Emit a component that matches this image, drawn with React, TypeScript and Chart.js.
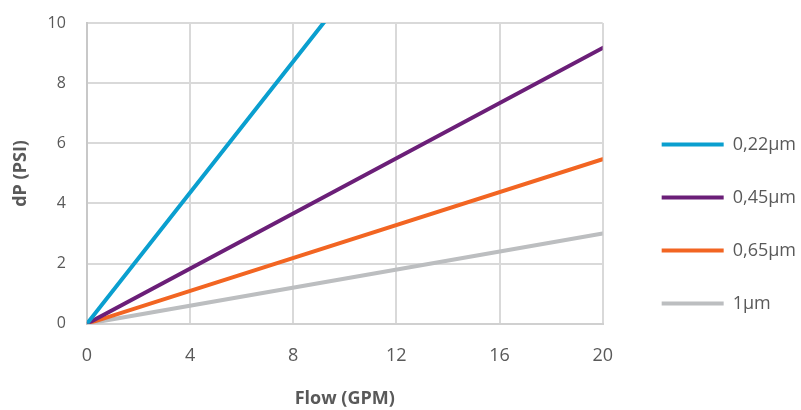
import React, { useEffect, useRef } from "react";
import { Chart, registerables } from "chart.js";

Chart.register(...registerables);

const seriesNames = ["0,22µm", "0,45µm", "0,65µm", "1µm"];
const seriesColors = ["#0a9fcf", "#6b1f78", "#f26522", "#bcbec0"];
const flowPoints = [0, 20];
const dp022 = [0, 21.8];
const dp045 = [0, 9.17];
const dp065 = [0, 5.47];
const dp1 = [0, 3.0];
const seriesValues = [dp022, dp045, dp065, dp1];

const legendShift = {
  id: "legendShift",
  afterLayout(chart: any) {
    const lg = chart.legend;
    if (!lg) return;
    lg.left += 24;
    lg.right += 24;
    lg.top += 7.5;
    lg.bottom += 7.5;
  },
};

export default function App() {
  const ref = useRef<HTMLCanvasElement>(null);
  useEffect(() => {
    document.body.style.margin = "0";
    const ctx = ref.current!;
    const chart = new Chart(ctx, {
      type: "line",
      plugins: [legendShift],
      data: {
        datasets: seriesNames.map((name, i) => ({
          label: name,
          data: flowPoints.map((x, j) => ({ x, y: seriesValues[i][j] })),
          borderColor: seriesColors[i],
          backgroundColor: seriesColors[i],
          borderWidth: 4,
          pointRadius: 0,
          borderCapStyle: "round" as const,
          fill: false,
        })),
      },
      options: {
        animation: false,
        responsive: false,
        maintainAspectRatio: false,
        layout: { padding: { left: 10, top: 23, right: 19, bottom: 0 } },
        plugins: {
          tooltip: { enabled: false },
          legend: {
            position: "right",
            align: "center",
            labels: {
              boxWidth: 62,
              boxHeight: 4,
              padding: 35,
              color: "#595959",
              font: { family: "Open Sans", size: 18 },
              generateLabels: (c: any) =>
                c.data.datasets.map((d: any, i: number) => ({
                  text: d.label,
                  fillStyle: d.borderColor,
                  strokeStyle: d.borderColor,
                  lineWidth: 0,
                  fontColor: "#595959",
                  datasetIndex: i,
                  hidden: false,
                })),
            },
          },
        },
        scales: {
          x: {
            type: "linear",
            min: 0,
            max: 20,
            ticks: {
              stepSize: 4,
              padding: 21.5,
              color: "#595959",
              font: { family: "Open Sans", size: 18 },
            },
            grid: { color: "#d9d9d9", lineWidth: 2, drawTicks: false },
            border: { color: "#d0d0d0", width: 2 },
            title: {
              display: true,
              text: "Flow (GPM)",
              color: "#595959",
              font: { family: "Open Sans", size: 18, weight: "bold" },
              padding: { top: 0, bottom: 0 },
            },
          },
          y: {
            min: 0,
            max: 10,
            afterFit: (scale: any) => {
              scale.paddingTop = 0;
            },
            ticks: {
              stepSize: 2,
              padding: 21,
              color: "#595959",
              font: { family: "Open Sans", size: 16 },
            },
            grid: { color: "#d9d9d9", lineWidth: 2, drawTicks: false },
            border: { color: "#c8c8c8", width: 2 },
            title: {
              display: true,
              text: "dP (PSI)",
              color: "#595959",
              font: { family: "Open Sans", size: 18, weight: "bold" },
              padding: { top: 0, bottom: -5 },
            },
          },
        },
      },
    });
    return () => chart.destroy();
  }, []);
  return (
    <div style={{ width: 801, height: 410 }}>
      <canvas ref={ref} width={801} height={410} />
    </div>
  );
}
